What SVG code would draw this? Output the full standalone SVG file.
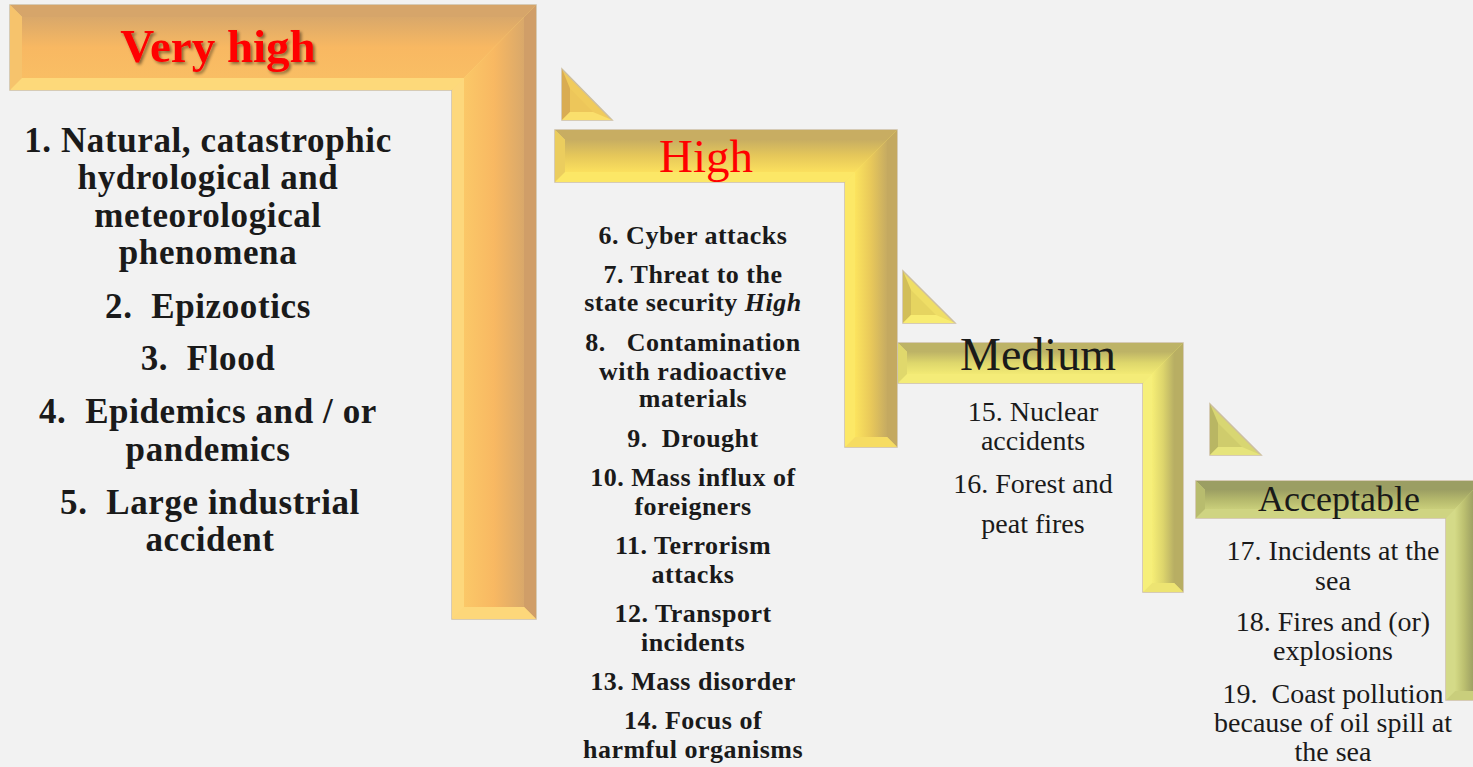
<svg xmlns="http://www.w3.org/2000/svg" width="1473" height="767" viewBox="0 0 1473 767">
<defs>
<linearGradient id="oH" x1="0" y1="0" x2="0" y2="1"><stop offset="0" stop-color="#D9A86A"/><stop offset="0.5" stop-color="#F8B862"/><stop offset="1" stop-color="#F9BE64"/></linearGradient>
<linearGradient id="oV" x1="0" y1="0" x2="1" y2="0"><stop offset="0" stop-color="#FBC868"/><stop offset="0.5" stop-color="#F8B862"/><stop offset="1" stop-color="#D9A86A"/></linearGradient>
<linearGradient id="yH" x1="0" y1="0" x2="0" y2="1"><stop offset="0" stop-color="#C8AE62"/><stop offset="0.5" stop-color="#E6C85A"/><stop offset="1" stop-color="#FBE05E"/></linearGradient>
<linearGradient id="yV" x1="0" y1="0" x2="1" y2="0"><stop offset="0" stop-color="#FCE45E"/><stop offset="0.5" stop-color="#E8C85A"/><stop offset="1" stop-color="#C6AB62"/></linearGradient>
<linearGradient id="mH" x1="0" y1="0" x2="0" y2="1"><stop offset="0" stop-color="#BEB466"/><stop offset="0.5" stop-color="#DED76C"/><stop offset="1" stop-color="#F2EA74"/></linearGradient>
<linearGradient id="mV" x1="0" y1="0" x2="1" y2="0"><stop offset="0" stop-color="#F6EE76"/><stop offset="0.5" stop-color="#DDD56C"/><stop offset="1" stop-color="#B8AF64"/></linearGradient>
<linearGradient id="aH" x1="0" y1="0" x2="0" y2="1"><stop offset="0" stop-color="#9C9F63"/><stop offset="0.5" stop-color="#B4B86C"/><stop offset="1" stop-color="#C9CE7A"/></linearGradient>
<linearGradient id="aV" x1="0" y1="0" x2="1" y2="0"><stop offset="0" stop-color="#D4DA86"/><stop offset="0.5" stop-color="#BCC070"/><stop offset="1" stop-color="#9EA163"/></linearGradient>
<filter id="shadow" x="-10%" y="-20%" width="130%" height="150%"><feDropShadow dx="2" dy="2" stdDeviation="1.5" flood-color="#000" flood-opacity="0.45"/></filter>
<style>
.edge{stroke:#CDBFA2;stroke-width:1.5;}
.t{font-family:"Liberation Serif","Times New Roman",serif;text-anchor:middle;fill:#1a1a1a;}
.b{font-weight:bold;}
.l1{font-size:35px;letter-spacing:0.6px;}
.l2{font-size:26px;letter-spacing:0.5px;}
.l3{font-size:28px;}
</style>
</defs>
<rect width="1473" height="767" fill="#F2F2F2"/>

<g id="node-very-high">
<polygon class="edge" points="10,5 536,5 536,619 452,619 452,90 10,90" fill="#FCD678"/>
<polygon points="10,5 536,5 524,17 22,17" fill="#D6A56A"/>
<polygon points="536,5 536,619 524,607 524,17" fill="#D09E68"/>
<polygon points="536,619 452,619 464,607 524,607" fill="#FDD77A"/>
<polygon points="452,619 452,90 464,78 464,607" fill="#FDD87C"/>
<polygon points="452,90 10,90 22,78 464,78" fill="#FDD97A"/>
<polygon points="10,90 10,5 22,17 22,78" fill="#F6C36C"/>
<polygon points="22,78 22,17 524,17 464,78" fill="url(#oH)"/>
<polygon points="464,78 524,17 524,607 464,607" fill="url(#oV)"/>
<text class="t b" x="218" y="62" font-size="47" style="fill:#FF0000" filter="url(#shadow)">Very high</text>
<text class="t b l1" x="208" y="152">1. Natural, catastrophic</text>
<text class="t b l1" x="208" y="189">hydrological and</text>
<text class="t b l1" x="208" y="227">meteorological</text>
<text class="t b l1" x="208" y="264">phenomena</text>
<text class="t b l1" x="208" y="318" xml:space="preserve">2.  Epizootics</text>
<text class="t b l1" x="208" y="370" xml:space="preserve">3.  Flood</text>
<text class="t b l1" x="208" y="423" xml:space="preserve">4.  Epidemics and / or</text>
<text class="t b l1" x="208" y="461">pandemics</text>
<text class="t b l1" x="210" y="514" xml:space="preserve">5.  Large industrial</text>
<text class="t b l1" x="210" y="551">accident</text>
</g>

<g id="node-high">
<polygon class="edge" points="555,130 897,130 897,447 845,447 845,182 555,182" fill="#FAE266"/>
<polygon points="555,130 897,130 887,140 565,140" fill="#C8AD62"/>
<polygon points="897,130 897,447 887,437 887,140" fill="#C4A960"/>
<polygon points="897,447 845,447 855,437 887,437" fill="#F6DC62"/>
<polygon points="845,447 845,182 855,172 855,437" fill="#FCE866"/>
<polygon points="845,182 555,182 565,172 855,172" fill="#FCE766"/>
<polygon points="555,182 555,130 565,140 565,172" fill="#EBCD5E"/>
<polygon points="565,172 565,140 887,140 855,172" fill="url(#yH)"/>
<polygon points="855,172 887,140 887,437 855,437" fill="url(#yV)"/>
<text class="t" x="706" y="172" font-size="47" style="fill:#FF0000">High</text>
<text class="t b l2" x="693" y="244">6. Cyber attacks</text>
<text class="t b l2" x="693" y="283">7. Threat to the</text>
<text class="t b l2" x="693" y="311">state security <tspan font-style="italic">High</tspan></text>
<text class="t b l2" x="693" y="351" xml:space="preserve">8.   Contamination</text>
<text class="t b l2" x="693" y="380">with radioactive</text>
<text class="t b l2" x="693" y="407">materials</text>
<text class="t b l2" x="693" y="447" xml:space="preserve">9.  Drought</text>
<text class="t b l2" x="693" y="486">10. Mass influx of</text>
<text class="t b l2" x="693" y="515">foreigners</text>
<text class="t b l2" x="693" y="554">11. Terrorism</text>
<text class="t b l2" x="693" y="583">attacks</text>
<text class="t b l2" x="693" y="622">12. Transport</text>
<text class="t b l2" x="693" y="651">incidents</text>
<text class="t b l2" x="693" y="690">13. Mass disorder</text>
<text class="t b l2" x="693" y="729">14. Focus of</text>
<text class="t b l2" x="693" y="758">harmful organisms</text>
</g>

<g id="node-medium">
<polygon class="edge" points="898,343 1183,343 1183,592 1143,592 1143,383 898,383" fill="#F4EC76"/>
<polygon points="898,343 1183,343 1174,352 907,352" fill="#BDB366"/>
<polygon points="1183,343 1183,592 1174,583 1174,352" fill="#B8AE63"/>
<polygon points="1183,592 1143,592 1152,583 1174,583" fill="#EDE472"/>
<polygon points="1143,592 1143,383 1152,374 1152,583" fill="#F6EF7A"/>
<polygon points="1143,383 898,383 907,374 1152,374" fill="#F4EC78"/>
<polygon points="898,383 898,343 907,352 907,374" fill="#E0D86C"/>
<polygon points="907,374 907,352 1174,352 1152,374" fill="url(#mH)"/>
<polygon points="1152,374 1174,352 1174,583 1152,583" fill="url(#mV)"/>
<text class="t" x="1038" y="370" font-size="46">Medium</text>
<text class="t l3" x="1033" y="421">15. Nuclear</text>
<text class="t l3" x="1033" y="450">accidents</text>
<text class="t l3" x="1033" y="493">16. Forest and</text>
<text class="t l3" x="1033" y="533">peat fires</text>
</g>

<g id="node-acceptable">
<polygon class="edge" points="1196,481 1482,481 1482,700 1446,700 1446,518 1196,518" fill="#D0D684"/>
<polygon points="1196,481 1482,481 1473,490 1205,490" fill="#9B9E63"/>
<polygon points="1482,481 1482,700 1473,691 1473,490" fill="#989B60"/>
<polygon points="1482,700 1446,700 1455,691 1473,691" fill="#C9CE7C"/>
<polygon points="1446,700 1446,518 1455,509 1455,691" fill="#D4DA88"/>
<polygon points="1446,518 1196,518 1205,509 1455,509" fill="#CFD482"/>
<polygon points="1196,518 1196,481 1205,490 1205,509" fill="#B8BC6E"/>
<polygon points="1205,509 1205,490 1473,490 1455,509" fill="url(#aH)"/>
<polygon points="1455,509 1473,490 1473,691 1455,691" fill="url(#aV)"/>
<text class="t" x="1339" y="511" font-size="36">Acceptable</text>
<text class="t l3" x="1333" y="560">17. Incidents at the</text>
<text class="t l3" x="1333" y="590">sea</text>
<text class="t l3" x="1333" y="631">18. Fires and (or)</text>
<text class="t l3" x="1333" y="660">explosions</text>
<text class="t l3" x="1333" y="703" xml:space="preserve">19.  Coast pollution</text>
<text class="t l3" x="1333" y="732">because of oil spill at</text>
<text class="t l3" x="1333" y="761">the sea</text>
</g>

<g id="connectors">
<g id="arrow-1">
<polygon class="edge" points="562,69 562,120 612,120" fill="#F0CB5C"/>
<polygon points="562,69 562,120 570,112 570,88.6" fill="#D9AC52"/>
<polygon points="562,120 612,120 593,112 570,112" fill="#FADF6C"/>
<polygon points="570,88.6 570,112 593,112" fill="#EDC65A"/>
</g>
<g id="arrow-2">
<polygon class="edge" points="903,271 903,323 955,323" fill="#EFDE66"/>
<polygon points="903,271 903,323 911,315 911,290" fill="#D2BE58"/>
<polygon points="903,323 955,323 936,315 911,315" fill="#F8EC72"/>
<polygon points="911,290 911,315 936,315" fill="#E6D460"/>
</g>
<g id="arrow-3">
<polygon class="edge" points="1210,404 1210,455 1261,455" fill="#D8D672"/>
<polygon points="1210,404 1210,455 1218,447 1218,423" fill="#B9B663"/>
<polygon points="1210,455 1261,455 1242,447 1218,447" fill="#E6E47C"/>
<polygon points="1218,423 1218,447 1242,447" fill="#CFCC6C"/>
</g>
</g>
</svg>
